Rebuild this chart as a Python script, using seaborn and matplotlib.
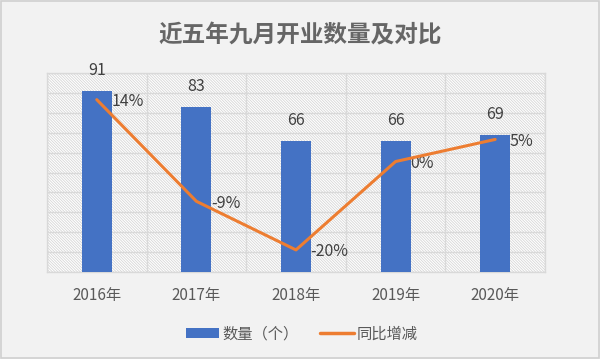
import matplotlib
matplotlib.use('Agg')
import matplotlib.pyplot as plt
import seaborn as sns
import numpy as np
from matplotlib.patches import Rectangle, Patch
from matplotlib.lines import Line2D

years = ['2016年', '2017年', '2018年', '2019年', '2020年']
counts = [91, 83, 66, 66, 69]
yoy = [14, -9, -20, 0, 5]
yoy_labels = ['14%', '-9%', '-20%', '0%', '5%']
title = '近五年九月开业数量及对比'
legend_labels = ['数量（个）', '同比增减']

sns.set_theme(style='white')
plt.rcParams['font.family'] = ['Noto Sans CJK SC', 'DejaVu Sans']
plt.rcParams['hatch.linewidth'] = 0.6
plt.rcParams['hatch.color'] = '#d6d6d6'

BLUE = '#4472C4'
ORANGE = '#ED7D31'
GRID = '#d9d9d9'
TXT = '#595959'

fig = plt.figure(figsize=(6, 3.59), dpi=100, facecolor='#f2f2f2')
fig.patches.append(Rectangle((0.002, 0.003), 0.996, 0.994, transform=fig.transFigure,
                             fill=False, edgecolor='#d0d0d0', lw=1.2))
ax = fig.add_axes([0.0783, 0.2423, 0.83, 0.554])
ax.set_facecolor('white')
ax.add_patch(Rectangle((0, 0), 1, 1, transform=ax.transAxes, facecolor='white',
                       hatch='\\' * 12, edgecolor='#d6d6d6', lw=0, zorder=0))

xpos = np.arange(len(years))
sns.barplot(x=xpos, y=counts, color=BLUE, width=0.3, saturation=1, ax=ax, zorder=3,
            native_scale=True, linewidth=0, edgecolor=BLUE)
ax.set_xlim(-0.5, 4.5)
ax.set_ylim(0, 100)
ax.set_yticks(np.arange(0, 101, 10))
ax.set_yticklabels([])
ax.tick_params(axis='y', length=0)
ax.set_xticks(xpos)
ax.set_xticklabels(years, color=TXT, fontsize=11)
ax.tick_params(axis='x', which='major', length=0, pad=11)
ax.set_xticks(np.arange(-0.5, 5, 1), minor=True)
ax.tick_params(axis='x', which='minor', length=4, color=GRID, width=1)
ax.grid(axis='y', which='major', color=GRID, lw=1, zorder=1)
ax.grid(axis='x', which='minor', color=GRID, lw=1, zorder=1)
ax.grid(axis='x', which='major', visible=False)
for s in ax.spines.values():
    s.set_color(GRID)
    s.set_linewidth(1)
ax.set_xlabel('')
ax.set_ylabel('')
ax.set_axisbelow(True)

for i, c in enumerate(counts):
    ax.annotate(str(c), (i, c), xytext=(0, 14.5), textcoords='offset points',
                ha='center', va='center', fontsize=11.5, color='#404040')

ax2 = ax.twinx()
sns.lineplot(x=xpos, y=yoy, color=ORANGE, lw=2.2, ax=ax2, zorder=4)
ax2.set_ylim(-25, 20)
ax2.set_yticks([])
ax2.set_ylabel('')
for s in ax2.spines.values():
    s.set_visible(False)
for i, (v, lab) in enumerate(zip(yoy, yoy_labels)):
    ax2.annotate(lab, (i, v), xytext=(10.5, -1.5), textcoords='offset points',
                 ha='left', va='center', fontsize=11.5, color='#404040')

fig.text(0.5, 1 - 35 / 359, title, ha='center', va='center', fontsize=17,
         fontweight='bold', color='#666666')

handles = [Patch(facecolor=BLUE, edgecolor='none'),
           Line2D([0], [0], color=ORANGE, lw=2.5)]
leg = fig.legend(handles, legend_labels, loc='center', bbox_to_anchor=(0.503, 1 - 334 / 359),
                 ncol=2, frameon=False, fontsize=11, handlelength=2.2, handleheight=0.65,
                 handletextpad=0.2, columnspacing=1.4)
for t in leg.get_texts():
    t.set_color(TXT)

fig.savefig('out.png', dpi=100, facecolor=fig.get_facecolor())
